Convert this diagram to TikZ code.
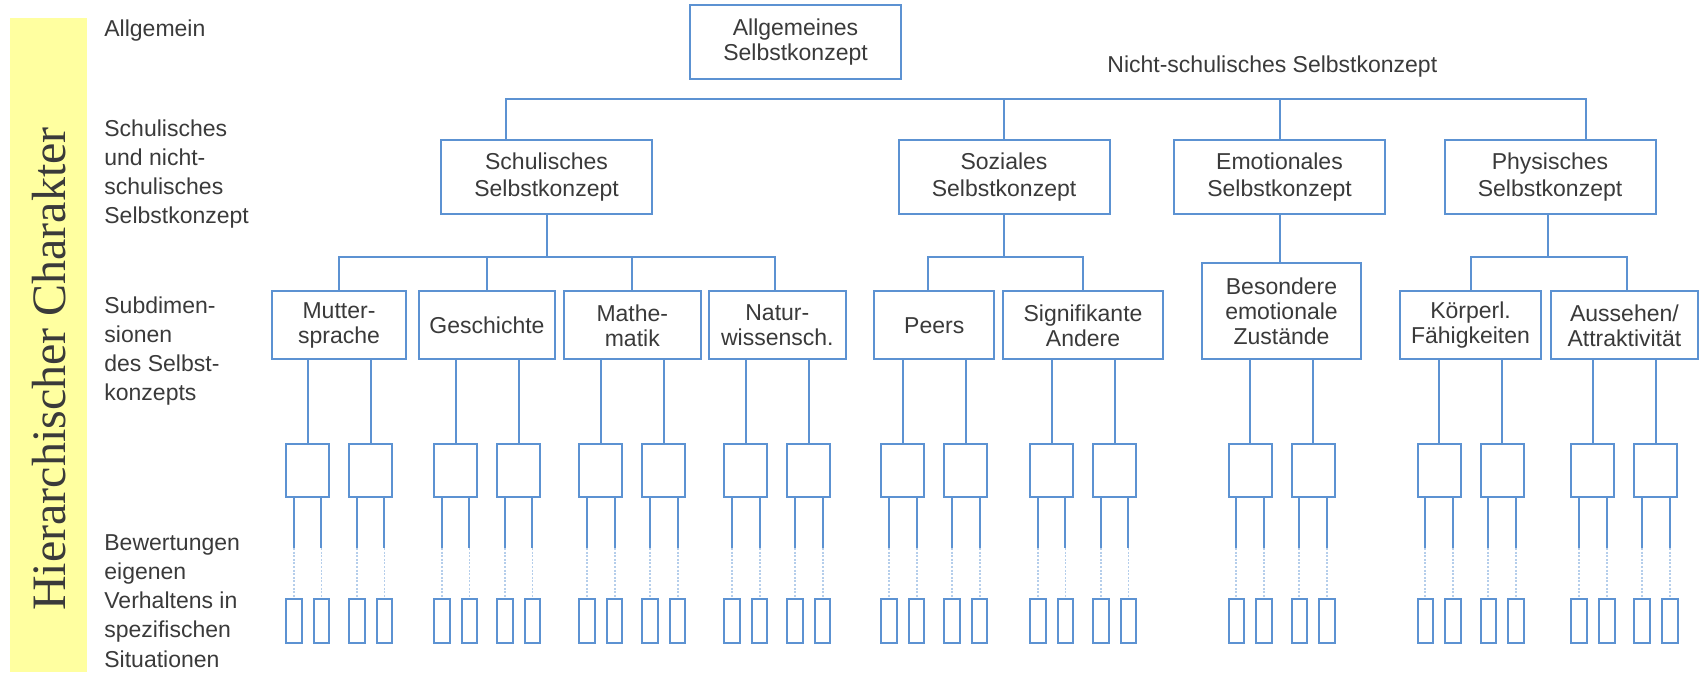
\documentclass[tikz,border=0pt]{standalone}
\usepackage{fontspec}
\setmainfont{Liberation Sans}
\newfontfamily\bandfont{Liberation Serif}
\usetikzlibrary{calc}
\definecolor{boxblue}{RGB}{92,146,210}
\definecolor{txt}{RGB}{58,58,58}
\definecolor{band}{RGB}{255,255,160}
\begin{document}
\begin{tikzpicture}[x=0.5pt,y=-0.5pt,
  box/.style={draw=boxblue, line width=1pt, fill=white, inner sep=0pt, align=center, text=txt,
    font=\fontsize{11.5pt}{12.6pt}\selectfont},
  boxtwo/.style={box, minimum width=105.5pt, minimum height=37pt, font=\fontsize{11.5pt}{13.2pt}\selectfont},
  boxthree/.style={box, minimum height=34pt},
  sq/.style={draw=boxblue, line width=1pt, fill=white, inner sep=0pt, minimum width=21.5pt, minimum height=26.5pt},
  tall/.style={draw=boxblue, line width=1pt, fill=white, inner sep=0pt, minimum width=7.75pt, minimum height=21.7pt},
  conn/.style={draw=boxblue, line width=1pt},
  dotconn/.style={draw=boxblue, line width=0.9pt, opacity=0.45, dash pattern=on 1pt off 0.8pt},
  lbl/.style={anchor=north west, align=left, inner sep=0pt, text=txt, font=\fontsize{11.5pt}{14.6pt}\selectfont}
]
\useasboundingbox (0,0) rectangle (1700,674);

% yellow band with rotated title
\fill[band] (9.5,18) rectangle (87,672);
\node[rotate=90, anchor=base, inner sep=0pt, text=txt, font=\bandfont\fontsize{24pt}{28pt}\selectfont] (title) at (65,369) {Hierarchischer Charakter};

% left labels
\node[lbl] (l1) at (104,19) {Allgemein};
\node[lbl] (l2) at (104,119) {Schulisches\\und nicht-\\schulisches\\Selbstkonzept};
\node[lbl] (l3) at (104,296) {Subdimen-\\sionen\\des Selbst-\\konzepts};
\node[lbl] (l4) at (104,534) {Bewertungen\\eigenen\\Verhaltens in\\spezifischen\\Situationen};

% root
\node[box, minimum width=105.5pt, minimum height=37pt] (root) at (795.5,42) {Allgemeines\\Selbstkonzept};
\node[anchor=base west, inner sep=0pt, text=txt, font=\fontsize{11.5pt}{13pt}\selectfont] (nsl) at (1107,72.7) {Nicht-schulisches Selbstkonzept};

% level 2
\node[boxtwo] (schul) at (546.5,177) {Schulisches\\Selbstkonzept};
\node[boxtwo] (soz) at (1004,177) {Soziales\\Selbstkonzept};
\node[boxtwo] (emo) at (1279.5,177) {Emotionales\\Selbstkonzept};
\node[boxtwo] (phys) at (1550,177) {Physisches\\Selbstkonzept};

% level 3
\node[boxthree, minimum width=67pt] (mut) at (339,325.4) {Mutter-\\sprache};
\node[boxthree, minimum width=68pt] (ges) at (487,325.4) {Geschichte};
\node[boxthree, minimum width=68.3pt] (mat) at (632.3,325.4) {Mathe-\\matik};
\node[boxthree, minimum width=68.3pt] (nat) at (777.3,325.4) {Natur-\\wissensch.};
\node[boxthree, minimum width=59.75pt] (pee) at (934.2,325.4) {Peers};
\node[boxthree, minimum width=79.7pt] (sig) at (1083,325.4) {Signifikante\\Andere};
\node[box, minimum width=79.15pt, minimum height=48pt] (bes) at (1281.5,311.3) {Besondere\\emotionale\\Zustände};
\node[boxthree, minimum width=70.5pt] (koe) at (1470.5,325.4) {Körperl.\\Fähigkeiten};
\node[boxthree, minimum width=73.6pt] (aus) at (1624.4,325.4) {Aussehen/\\Attraktivität};

% top bus
\coordinate (b1) at (0,99);
\coordinate (sl) at ([xshift=-20.25pt]schul.north);
\coordinate (pr) at ([xshift=17.75pt]phys.north);
\draw[conn] (sl) -- (sl |- b1) -| (pr);
\draw[conn] (soz.north) -- (soz.north |- b1);
\draw[conn] (emo.north) -- (emo.north |- b1);

% level 3 buses
\coordinate (b3) at (0,256.5);
\draw[conn] (schul.south) -- (schul.south |- b3);
\coordinate (nt) at ([xshift=-1pt]nat.north);
\draw[conn] (mut.north) -- (mut.north |- b3) -| (nt);
\draw[conn] (ges.north) -- (ges.north |- b3);
\draw[conn] (mat.north) -- (mat.north |- b3);
\draw[conn] (soz.south) -- (soz.south |- b3);
\coordinate (pe) at ([xshift=-3pt]pee.north);
\draw[conn] (pe) -- (pe |- b3) -| (sig.north);
\draw[conn] (emo.south) -- (emo.south |- bes.north);
\coordinate (ph) at ([xshift=-1pt]phys.south);
\draw[conn] (ph) -- (ph |- b3);
\coordinate (au) at ([xshift=1.5pt]aus.north);
\draw[conn] (koe.north) -- (koe.north |- b3) -| (au);

% squares and evaluations
\foreach \nm in {mut,ges,mat,nat,pee,sig,bes,koe,aus}{
  \foreach \kk/\sh in {a/-15.75,b/15.75}{
    \coordinate (c-\nm-\kk) at ([xshift=\sh pt]\nm.south);
    \node[sq] (sq-\nm-\kk) at (c-\nm-\kk |- 0,470.5) {};
    \draw[conn] (\nm.south -| sq-\nm-\kk.north) -- (sq-\nm-\kk.north);
    \foreach \jj/\tx in {l/-6.85,r/6.95}{
      \coordinate (d-\nm-\kk-\jj) at ([xshift=\tx pt]sq-\nm-\kk.center);
      \node[tall] (t-\nm-\kk-\jj) at (d-\nm-\kk-\jj |- 0,621) {};
      \coordinate (e-\nm-\kk-\jj) at (t-\nm-\kk-\jj.north |- 0,548);
      \draw[conn] (sq-\nm-\kk.south -| t-\nm-\kk-\jj.north) -- (e-\nm-\kk-\jj);
      \draw[dotconn] (e-\nm-\kk-\jj) -- (t-\nm-\kk-\jj.north);
    }
  }
}
\end{tikzpicture}
\end{document}
